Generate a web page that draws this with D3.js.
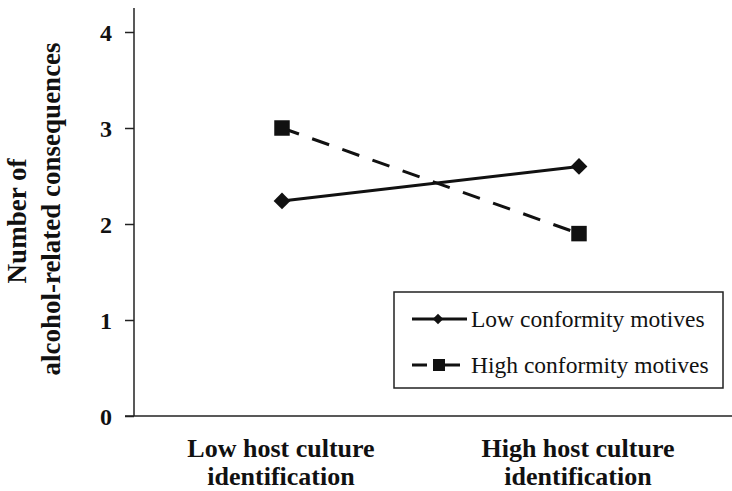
<!DOCTYPE html>
<html><head><meta charset="utf-8">
<script src="https://cdn.jsdelivr.net/npm/d3@7"></script>
<style>body{margin:0;background:#fff}svg{display:block}</style>
</head><body>
<script>
const categories = [["Low host culture","identification"],["High host culture","identification"]];
const seriesNames = ["Low conformity motives","High conformity motives"];
const lowConformity = [2.24, 2.60];
const highConformity = [3.00, 1.90];
const yTicks = [0,1,2,3,4];

const W=732,H=491;
const svg=d3.select("body").append("svg").attr("width",W).attr("height",H);
const font="'Liberation Serif','Times New Roman',serif";
const x=d3.scalePoint().domain([0,1]).range([282,579]);
const y=d3.scaleLinear().domain([0,4]).range([416,32]);

// axes
const yAxis=d3.axisLeft(y).tickValues(yTicks).tickSize(9).tickFormat(d3.format("d"));
const gy=svg.append("g").attr("transform","translate(134,0)").call(yAxis);
gy.select(".domain").remove();
gy.selectAll("line").attr("stroke","#222").attr("stroke-width",1.5);
gy.selectAll("text").attr("font-family",font).attr("font-weight","bold").attr("font-size",24).attr("fill","#111").attr("dx",-10).attr("dy","0.35em");
svg.append("line").attr("x1",134).attr("x2",134).attr("y1",8).attr("y2",y(0)).attr("stroke","#222").attr("stroke-width",1.5);
svg.append("line").attr("x1",125).attr("x2",732).attr("y1",y(0)).attr("y2",y(0)).attr("stroke","#222").attr("stroke-width",1.5);

// y title
svg.append("text").attr("transform","translate(26,221) rotate(-90)").attr("text-anchor","middle")
  .attr("font-family",font).attr("font-weight","bold").attr("font-size",27).attr("fill","#111").text("Number of");
svg.append("text").attr("transform","translate(60,209) rotate(-90)").attr("text-anchor","middle")
  .attr("font-family",font).attr("font-weight","bold").attr("font-size",27).attr("fill","#111").text("alcohol-related consequences");

// x labels
categories.forEach((c,i)=>{
  const t=svg.append("text").attr("text-anchor","middle").attr("font-family",font).attr("font-weight","bold").attr("font-size",26).attr("fill","#111");
  const cx = i===0 ? 281 : 578;
  t.append("tspan").attr("x",cx).attr("y",457).text(c[0]);
  t.append("tspan").attr("x",cx).attr("y",485).text(c[1]);
});

const line=d3.line().x((d,i)=>x(i)).y(d=>y(d));
svg.append("path").datum(lowConformity).attr("d",line).attr("fill","none").attr("stroke","#111").attr("stroke-width",3);
svg.append("path").datum(highConformity).attr("d",line).attr("fill","none").attr("stroke","#111").attr("stroke-width",3).attr("stroke-dasharray","18,14");

svg.selectAll(".dia").data(lowConformity).join("path").attr("d",d3.symbol().type(d3.symbolSquare).size(140))
  .attr("transform",(d,i)=>`translate(${x(i)},${y(d)}) rotate(45)`).attr("fill","#111");
svg.selectAll(".sq").data(highConformity).join("path").attr("d",d3.symbol().type(d3.symbolSquare).size(240))
  .attr("transform",(d,i)=>`translate(${x(i)},${y(d)})`).attr("fill","#111");

// legend
const lg=svg.append("g");
lg.append("rect").attr("x",394).attr("y",292).attr("width",329).attr("height",96).attr("fill","#fff").attr("stroke","#222").attr("stroke-width",1.5);
const rows=[{y:319,x2:467,dash:null,sym:"dia"},{y:365,x2:460,dash:"15,6,27",sym:"sq"}];
rows.forEach((r,i)=>{
  lg.append("line").attr("x1",412).attr("x2",r.x2).attr("y1",r.y).attr("y2",r.y).attr("stroke","#111").attr("stroke-width",3).attr("stroke-dasharray",r.dash);
  if(r.sym==="dia") lg.append("path").attr("d",d3.symbol().type(d3.symbolSquare).size(55)).attr("transform",`translate(438,${r.y}) rotate(45)`).attr("fill","#111");
  else lg.append("path").attr("d",d3.symbol().type(d3.symbolSquare).size(144)).attr("transform",`translate(439,${r.y})`).attr("fill","#111");
  lg.append("text").attr("x",471).attr("y",r.y).attr("dy","0.35em").attr("font-family",font).attr("font-size",23.5).attr("fill","#111").text(seriesNames[i]);
});
</script>
</body></html>
